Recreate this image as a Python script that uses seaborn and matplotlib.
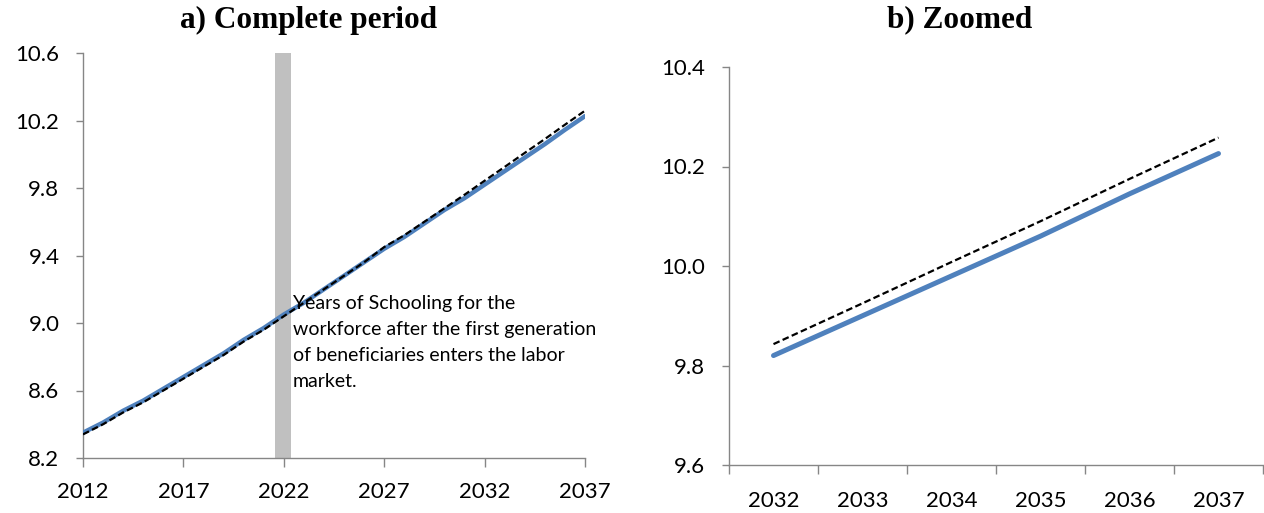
import numpy as np
import pandas as pd
import matplotlib
matplotlib.use("Agg")
import matplotlib.pyplot as plt
import seaborn as sns

years = list(range(2012, 2038))
baseline = [8.35, 8.41, 8.48, 8.54, 8.61, 8.68, 8.75, 8.82, 8.90, 8.97,
            9.05, 9.12, 9.20, 9.28, 9.36, 9.44, 9.51, 9.59, 9.67, 9.74,
            9.82, 9.90, 9.98, 10.06, 10.145, 10.226]
counterfactual = [8.34, 8.40, 8.47, 8.53, 8.60, 8.67, 8.74, 8.81, 8.89, 8.96,
                  9.04, 9.12, 9.20, 9.28, 9.36, 9.45, 9.52, 9.60, 9.68, 9.76,
                  9.843, 9.925, 10.008, 10.09, 10.175, 10.258]
zoom_years = ["2032", "2033", "2034", "2035", "2036", "2037"]
zoom_baseline = [9.82, 9.90, 9.98, 10.06, 10.145, 10.226]
zoom_counter = [9.843, 9.925, 10.008, 10.09, 10.175, 10.258]
left_yticks = [8.2, 8.6, 9.0, 9.4, 9.8, 10.2, 10.6]
right_yticks = [9.6, 9.8, 10.0, 10.2, 10.4]
left_xticks = [2012, 2017, 2022, 2027, 2032, 2037]
annotation = ("Years of Schooling for the\nworkforce after the first generation\n"
              "of beneficiaries enters the labor\nmarket.")

sns.set_theme(style="white")
plt.rcParams['font.family'] = ['Lato', 'DejaVu Sans']
plt.rcParams['text.color'] = 'black'
plt.rcParams['xtick.color'] = 'black'
plt.rcParams['ytick.color'] = 'black'

BLUE = "#4F81BD"
GRAY = "#868686"

fig = plt.figure(figsize=(12.64, 5.13), dpi=100)
ax1 = fig.add_axes([83/1264, 1-458/513, (585-83)/1264, (458-53)/513])
ax2 = fig.add_axes([729/1264, 1-465/513, (1263-729)/1264, (465-67)/513])

df1 = pd.DataFrame({"year": years, "base": baseline, "cf": counterfactual})
ax1.axvspan(2021.55, 2022.35, color="#C0C0C0", lw=0, zorder=1)
sns.lineplot(data=df1, x="year", y="base", ax=ax1, color=BLUE, lw=3.2, zorder=3)
sns.lineplot(data=df1, x="year", y="cf", ax=ax1, color="black", lw=1.6,
             ls=(0, (3, 1.5)), zorder=4)
ax1.set_xlim(2012, 2037)
ax1.set_ylim(8.2, 10.6)
ax1.set_xticks(left_xticks)
ax1.set_yticks(left_yticks)
ax1.set_yticklabels([f"{v:.1f}" for v in left_yticks])
ax1.text(2022.45, 9.165, annotation, fontsize=14, va="top", ha="left",
         linespacing=1.64, zorder=5, color="black")

df2 = pd.DataFrame({"year": zoom_years, "base": zoom_baseline, "cf": zoom_counter})
sns.lineplot(data=df2, x="year", y="base", ax=ax2, color=BLUE, lw=3.6,
             solid_capstyle="round", zorder=3)
sns.lineplot(data=df2, x="year", y="cf", ax=ax2, color="black", lw=1.6,
             ls=(0, (3, 1.5)), zorder=4)
ax2.set_xlim(-0.5, 5.5)
ax2.set_ylim(9.6, 10.4)
ax2.set_xticks(range(len(zoom_years)))
ax2.set_xticklabels(zoom_years)
ax2.set_xticks(np.arange(-0.5, 5.6, 1.0), minor=True)
ax2.set_yticks(right_yticks)
ax2.set_yticklabels([f"{v:.1f}" for v in right_yticks])

for ax in (ax1, ax2):
    ax.set_xlabel("")
    ax.set_ylabel("")
    for s in ("top", "right"):
        ax.spines[s].set_visible(False)
    for s in ("left", "bottom"):
        ax.spines[s].set_color(GRAY)
        ax.spines[s].set_linewidth(1.0)
    ax.tick_params(axis="y", which="major", direction="out", length=5, color=GRAY,
                   width=1.0, labelsize=16, pad=12, left=True, labelcolor="black")
    ax.grid(False)

ax1.tick_params(axis="x", which="major", direction="out", length=6.5, color=GRAY,
                width=1.0, labelsize=16, pad=11, bottom=True, labelcolor="black")
ax2.tick_params(axis="x", which="major", length=0, labelsize=16, pad=19,
                labelcolor="black")
ax2.tick_params(axis="x", which="minor", direction="out", length=6.5, color=GRAY,
                width=1.0, bottom=True)

fig.text(309/1264, 1-20/513, "a) Complete period", ha="center", va="center",
         fontsize=22.5, fontweight="bold", family=["Liberation Serif", "DejaVu Serif"])
fig.text(960/1264, 1-20/513, "b) Zoomed", ha="center", va="center",
         fontsize=22.5, fontweight="bold", family=["Liberation Serif", "DejaVu Serif"])

fig.savefig("out.png", dpi=100)
